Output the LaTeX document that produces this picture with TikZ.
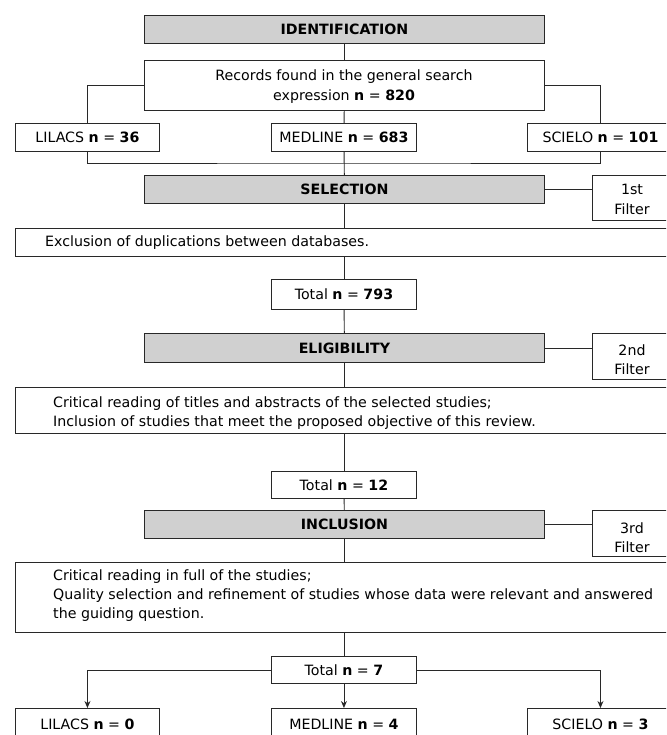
\documentclass[tikz,border=0pt]{standalone}
\usepackage{fontspec}
\setmainfont{DejaVu Sans}
\usetikzlibrary{arrows.meta}
\definecolor{headgray}{RGB}{208,208,208}
\definecolor{linegray}{RGB}{40,40,40}
\begin{document}
\begin{tikzpicture}[x=1pt,y=-1pt,
  box/.style={draw=linegray, line width=0.9pt, inner sep=0pt, anchor=north west,
    font=\fontsize{14.2}{19}\selectfont, align=center},
  head/.style={box, fill=headgray, font=\fontsize{14.2}{19}\selectfont\bfseries},
  txt/.style={inner sep=0pt, font=\fontsize{14.2}{#1}\selectfont},
  link/.style={draw=linegray, line width=0.9pt},
  arr/.style={link, -{Stealth[length=7pt,width=6pt]}}]
\useasboundingbox (0,0) rectangle (666,735);
\clip (0,0) rectangle (666,735);
% identification
\node[head, minimum width=400pt, minimum height=28pt] (ident) at (144,15) {IDENTIFICATION};
\node[box, minimum width=400pt, minimum height=50pt] (rec) at (144,60) {};
\node[txt=20pt, align=center] (rect) at (344,87)
  {Records found in the general search\\expression \textbf{n} = \textbf{820}};
\node[box, minimum width=144pt, minimum height=28pt] (lil1) at (15,123) {LILACS \textbf{n} = \textbf{36}};
\node[box, minimum width=145pt, minimum height=28pt] (med1) at (271,123) {MEDLINE \textbf{n} = \textbf{683}};
\node[box, minimum width=146pt, minimum height=28pt] (sci1) at (527,123) {SCIELO \textbf{n} = \textbf{101}};
\coordinate (bb) at (344,163);
\draw[link] (ident) -- (rec);
\draw[link] (rec) -- (med1);
\draw[link] (rec.west) -| (lil1.north);
\draw[link] (rec.east) -| (sci1.north);
\draw[link] (lil1.south) |- (bb) -| (sci1.south);
% selection
\node[head, minimum width=400pt, minimum height=28pt] (sel) at (144,175) {SELECTION};
\node[box, minimum width=80pt, minimum height=45pt] (f1) at (592,175) {};
\begin{scope}
  \clip (592,175) rectangle (672,216.5);
  \node[txt=20pt, align=center] (f1t) at (632,199.5) {1st\\Filter};
\end{scope}
\draw[link] (med1) -- (sel);
\draw[link] (sel.east) -- (sel.east -| f1.west);
\node[box, minimum width=660pt, minimum height=28pt] (excl) at (15,228) {};
\node[txt=19pt, anchor=west] (exclt) at (45,242.5) {Exclusion of duplications between databases.};
\draw[link] (sel.south) -- (sel.south |- excl.north);
\node[box, minimum width=145pt, minimum height=30pt] (t1) at (271,279) {Total \textbf{n} = \textbf{793}};
\draw[link] (excl.south -| t1.north) -- (t1.north);
% eligibility
\node[head, minimum width=400pt, minimum height=29pt] (elig) at (144,333) {ELIGIBILITY};
\node[box, minimum width=80pt, minimum height=46pt] (f2) at (592,333) {};
\begin{scope}
  \clip (592,333) rectangle (672,375.5);
  \node[txt=19pt, align=center] (f2t) at (632,359.5) {2nd\\Filter};
\end{scope}
\draw[link] (t1) -- (elig);
\draw[link] (elig.east) -- (elig.east -| f2.west);
\node[box, minimum width=660pt, minimum height=46pt] (crit1) at (15,387) {};
\node[txt=19pt, align=left, anchor=west] (crit1t) at (53,413.5)
  {Critical reading of titles and abstracts of the selected studies;\\Inclusion of studies that meet the proposed objective of this review.};
\draw[link] (elig.south) -- (elig.south |- crit1.north);
\node[box, minimum width=145pt, minimum height=27pt] (t2) at (271,471) {Total \textbf{n} = \textbf{12}};
\draw[link] (crit1.south -| t2.north) -- (t2.north);
% inclusion
\node[head, minimum width=400pt, minimum height=28pt] (incl) at (144,510) {INCLUSION};
\node[box, minimum width=80pt, minimum height=46pt] (f3) at (592,510) {};
\node[txt=19pt, align=center] (f3t) at (632,537.5) {3rd\\Filter};
\draw[link] (t2) -- (incl);
\draw[link] (incl.east) -- (incl.east -| f3.west);
\node[box, minimum width=660pt, minimum height=70pt] (crit2) at (15,562) {};
\node[txt=18.7pt, align=left, anchor=west] (crit2t) at (53,595.5)
  {Critical reading in full of the studies;\\Quality selection and refinement of studies whose data were relevant and answered\\the guiding question.};
\draw[link] (incl.south) -- (incl.south |- crit2.north);
\node[box, minimum width=145pt, minimum height=27pt] (t3) at (271,656) {Total \textbf{n} = \textbf{7}};
\draw[link] (crit2.south -| t3.north) -- (t3.north);
% final
\node[box, minimum width=144pt, minimum height=32pt] (lil2) at (15,708) {LILACS \textbf{n} = \textbf{0}};
\node[box, minimum width=145pt, minimum height=32pt] (med2) at (271,708) {MEDLINE \textbf{n} = \textbf{4}};
\node[box, minimum width=146pt, minimum height=32pt] (sci2) at (527,708) {SCIELO \textbf{n} = \textbf{3}};
\draw[arr] (t3.west) -| (lil2.north);
\draw[arr] (t3.east) -| (sci2.north);
\draw[arr] (t3) -- (med2);
\end{tikzpicture}
\end{document}
